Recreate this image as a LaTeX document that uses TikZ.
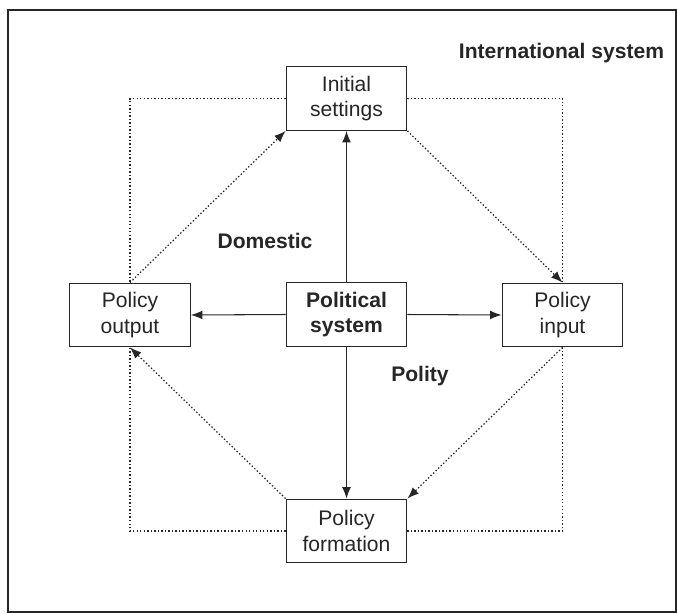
\documentclass[tikz,border=0pt]{standalone}
\usepackage{fontspec}
\setmainfont{Liberation Sans}
\usetikzlibrary{arrows.meta}
\definecolor{ink}{HTML}{262626}
\tikzset{
  stage/.style={draw=ink, line width=0.8pt, fill=white, minimum width=2.41cm,
    minimum height=1.27cm, inner sep=0pt, align=center, text=ink,
    font=\fontsize{12}{14.5}\selectfont},
  link/.style={draw=ink, line width=0.6pt, -{Latex[length=6.5pt,width=5pt]}},
  boundary/.style={draw=ink, line width=0.7pt, dash pattern=on 0.8pt off 1.2pt},
  feedback/.style={boundary, -{Latex[length=6.5pt,width=5pt]}},
  tag/.style={text=ink, font=\fontsize{12}{14.5}\selectfont\bfseries}
}
\begin{document}
\begin{tikzpicture}[x=0.02cm, y=-0.02cm]
    \useasboundingbox (0,0) rectangle (677,613);

    % Outer frame
    \draw[ink, line width=0.8pt] (8,10) rectangle (676,612);
    \node[tag] (intl) at (561.5,53) {International system};

    % Stages
    \node[stage] (init) at (346.5,98.5) {Initial\\settings};
    \node[stage] (output) at (130,315) {Policy\\output};
    \node[stage] (input) at (562.5,315) {Policy\\input};
    \node[stage] (formation) at (346.5,531) {Policy\\formation};
    \node[stage, font=\fontsize{12}{14.5}\selectfont\bfseries] (polsys) at (346.5,314.5) {Political\\system};

    % Corners of the dotted square
    \coordinate (nw) at (130,98.5);
    \coordinate (ne) at (562.5,98.5);
    \coordinate (se) at (562.5,531);
    \coordinate (sw) at (130,531);

    % Dotted square
    \draw[boundary] (init.west) -- (nw) -- (output.north);
    \draw[boundary] (init.east) -- (ne) -- (input.north);
    \draw[boundary] (input.south) -- (se) -- (formation.east);
    \draw[boundary] (formation.west) -- (sw) -- (output.south);

    % Policy cycle
    \draw[feedback] (output.north) -- (init.south west);
    \draw[feedback] (init.south east) -- (input.north);
    \draw[feedback] (input.south) -- (formation.north east);
    \draw[feedback] (formation.north west) -- (output.south);

    % From the political system
    \draw[link] (polsys.north) -- (init.south);
    \draw[link] (polsys.west) -- (output.east);
    \draw[link] (polsys.east) -- (input.west);
    \draw[link] (polsys.south) -- (formation.north);

    % Labels
    \node[tag] (domestic) at (265,241) {Domestic};
    \node[tag] (polity) at (420,376) {Polity};
\end{tikzpicture}
\end{document}
